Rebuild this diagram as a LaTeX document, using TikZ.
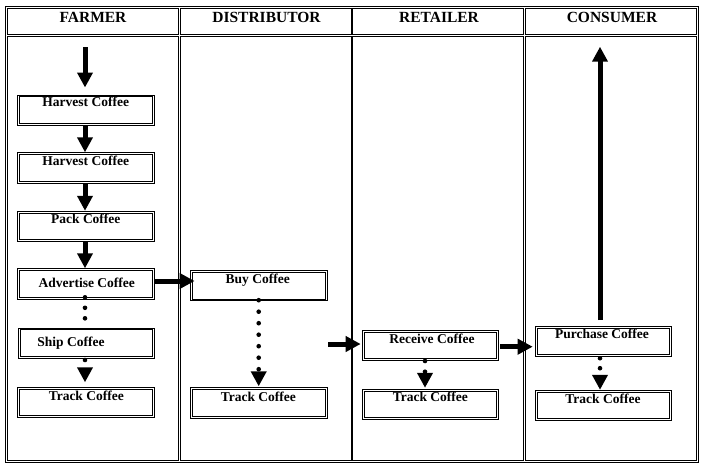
\documentclass[tikz,border=0pt]{standalone}
\usepackage{fontspec}
\setmainfont{Liberation Serif}
\usetikzlibrary{arrows.meta}
\tikzset{
  x=1pt, y=-1pt,
  cell/.style={draw, line width=0.9pt},
  hdr/.style={anchor=base, inner sep=0pt, font=\bfseries\fontsize{15.5}{18}\selectfont},
  box/.style={draw, line width=0.8pt, minimum width=136.4pt, minimum height=30.2pt, inner sep=0pt},
  boxin/.style={draw, line width=0.8pt},
  lbl/.style={anchor=base, inner sep=0pt, font=\bfseries\fontsize{13.5}{16}\selectfont},
  flow/.style={line width=5pt, -{Triangle[width=15pt,length=15pt]}},
  dots/.style={line width=4.6pt, line cap=round, dash pattern=on 0pt off 10.5pt},
  dotflow/.style={dots, -{Triangle[width=15pt,length=15pt]}}
}
\begin{document}
\begin{tikzpicture}
\useasboundingbox (0,0) rectangle (706,472);
\fill[white] (0,0) rectangle (706,472);
% table frame
\draw[cell] (5.5,6.5) rectangle (698.5,462.5);
\foreach \a/\b in {7.5/178.3, 180.2/351, 352.8/523.3, 525.2/696.5}{
  \draw[cell] (\a,8.3) rectangle (\b,34.2);
  \draw[cell] (\a,36) rectangle (\b,460.7);
}
% headers
\node[hdr] (hf) at (93,22.7) {FARMER};
\node[hdr] (hd) at (266.5,22.7) {DISTRIBUTOR};
\node[hdr] (hr) at (439,22.7) {RETAILER};
\node[hdr] (hc) at (612,22.7) {CONSUMER};
% boxes
\node[box] (h1) at (86,110) {};
\node[box] (h2) at (86,167.8) {};
\node[box] (pk) at (86,226.3) {};
\node[box] (ad) at (86,283.8) {};
\node[box] (sh) at (86.5,343) {};
\node[box] (tf) at (86,402.3) {};
\node[box] (by) at (258.7,285.7) {};
\node[box] (td) at (258.7,402.8) {};
\node[box] (rc) at (430.3,345.5) {};
\node[box] (tr) at (430.3,404.3) {};
\node[box] (pu) at (603.3,341.2) {};
\node[box] (tc) at (603.3,405.3) {};
\foreach \n in {h1,h2,pk,ad,sh,tf,by,td,rc,tr,pu,tc}{
  \draw[boxin] ([shift={(2.3,2.3)}]\n.north west) rectangle ([shift={(-2.3,-2.3)}]\n.south east);
}
% labels
\node[lbl] (lh1) at (85.7,106.7) {Harvest Coffee};
\node[lbl] (lh2) at (85.7,165.7) {Harvest Coffee};
\node[lbl] (lpk) at (85.8,223.3) {Pack Coffee};
\node[lbl] (lad) at (86.7,287.3) {Advertise Coffee};
\node[lbl] (lsh) at (71,346) {Ship Coffee};
\node[lbl] (ltf) at (86.3,400) {Track Coffee};
\node[lbl] (lby) at (257.7,283.3) {Buy Coffee};
\node[lbl] (ltd) at (258.3,401.7) {Track Coffee};
\node[lbl] (lrc) at (432,343.3) {Receive Coffee};
\node[lbl] (ltr) at (430.3,401.7) {Track Coffee};
\node[lbl] (lpu) at (602,338.3) {Purchase Coffee};
\node[lbl] (ltc) at (603,403.3) {Track Coffee};
% free ends
\coordinate (top) at (85,47.3);
\coordinate (din) at (328.3,344);
\coordinate (cup) at (600,46.7);
% solid arrows
\draw[flow, shorten >=7pt] (top) -- (top |- h1.north);
\draw[flow] ([xshift=-1pt]h1.south) -- ([xshift=-1pt]h2.north);
\draw[flow] ([xshift=-1pt]h2.south) -- ([xshift=-1pt]pk.north);
\draw[flow] ([xshift=-1pt]pk.south) -- ([xshift=-1pt]ad.north);
\draw[flow, shorten >=-4.5pt] (ad.east |- 0,281) -- (by.west |- 0,281);
\draw[flow, shorten >=1pt] (din) -- (rc.west |- din);
\draw[flow, shorten <=1.5pt, shorten >=2pt] (rc.east |- 0,346.7) -- (pu.west |- 0,346.7);
\draw[flow, shorten <=5.5pt] (cup |- pu.north) -- (cup);
% dotted connectors
\draw[dots, shorten <=-2pt, shorten >=6pt] ([xshift=-1pt]ad.south) -- ([xshift=-1pt]ad.south |- sh.north);
\draw[dotflow, shorten <=1.5pt, shorten >=4.5pt] ([xshift=-1.5pt]sh.south) -- ([xshift=-1.5pt]sh.south |- tf.north);
\draw[dotflow, dash pattern=on 0pt off 11.5pt, shorten <=-1pt, shorten >=1pt] (by.south) -- (td.north);
\draw[dotflow, dash pattern=on 0pt off 10.7pt, shorten <=0pt, shorten >=1pt] ([xshift=-5.3pt]rc.south) -- ([xshift=-5.3pt]tr.north);
\draw[dotflow, dash pattern=on 0pt off 10pt, shorten <=1.5pt, shorten >=0pt] ([xshift=-3.3pt]pu.south) -- ([xshift=-3.3pt]tc.north);
\end{tikzpicture}
\end{document}
